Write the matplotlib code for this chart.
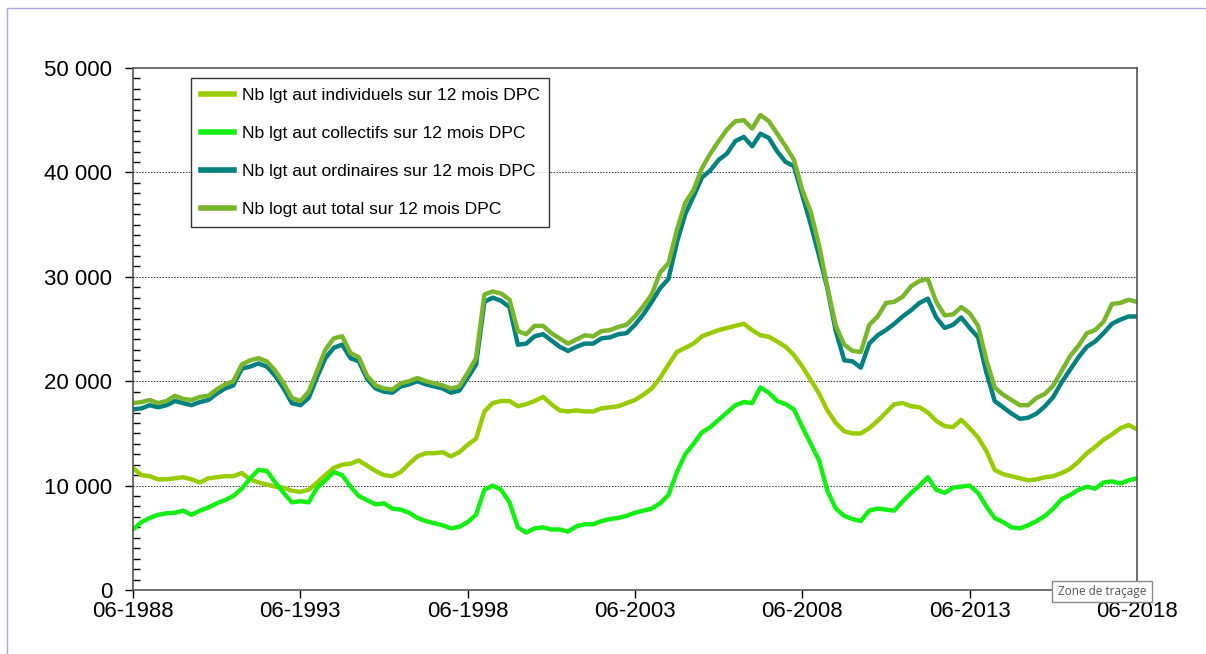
import matplotlib
matplotlib.use("Agg")
import matplotlib.pyplot as plt
import matplotlib.dates as mdates
from matplotlib.patches import Rectangle
from matplotlib.lines import Line2D
import pandas as pd

# quarterly readings (thousands), 06-1988 -> 06-2018
dates = pd.date_range("1988-06-01", "2018-06-01", freq="3MS")

individuels = [11.7, 11.0, 10.9, 10.6, 10.6, 10.7, 10.8, 10.6, 10.3, 10.7, 10.8, 10.9, 10.9, 11.2, 10.6, 10.3, 10.1,
               9.9, 9.8, 9.5, 9.4, 9.6, 10.3, 11.0, 11.7, 12.0, 12.1, 12.4, 11.9, 11.4, 11.0, 10.9, 11.3, 12.1,
               12.8, 13.1, 13.1, 13.2, 12.8, 13.2, 13.9, 14.5, 17.1, 17.9, 18.1, 18.1, 17.6, 17.8, 18.1, 18.5,
               17.8, 17.2, 17.1, 17.2, 17.1, 17.1, 17.4, 17.5, 17.6, 17.9, 18.2, 18.7, 19.3,
               20.3, 21.6, 22.8, 23.2, 23.6, 24.3, 24.6, 24.9, 25.1, 25.3, 25.5, 24.9, 24.4, 24.25, 23.8, 23.3,
               22.5, 21.4, 20.1, 18.8, 17.2, 16.0, 15.2, 15.0, 15.0, 15.5, 16.2, 17.0, 17.8, 17.9, 17.6,
               17.5, 17.0, 16.2, 15.7, 15.6, 16.3, 15.5, 14.6, 13.3, 11.5, 11.1, 10.9, 10.7, 10.5, 10.6, 10.8,
               10.9, 11.2, 11.6, 12.3, 13.1, 13.7, 14.4, 14.9, 15.5, 15.8, 15.4]

collectifs = [5.8, 6.5, 6.9, 7.2, 7.35, 7.4, 7.6, 7.2, 7.6, 7.9, 8.3, 8.6, 9.0, 9.7, 10.7, 11.5, 11.4, 10.3, 9.3,
              8.4, 8.5, 8.4, 9.8, 10.5, 11.3, 11.0, 9.9, 9.0, 8.6, 8.2, 8.3, 7.8, 7.7, 7.4,
              6.9, 6.6, 6.4, 6.2, 5.9, 6.05, 6.5, 7.2, 9.6, 10.0, 9.6, 8.4, 6.0, 5.5, 5.9, 6.0, 5.8, 5.8, 5.6,
              6.1, 6.3, 6.3, 6.6, 6.8, 6.9, 7.1, 7.4, 7.6, 7.8,
              8.3, 9.1, 11.3, 13.0, 14.0, 15.1, 15.6, 16.3, 17.0, 17.7, 18.0, 17.9, 19.4, 18.9, 18.1, 17.8,
              17.3, 15.6, 14.0, 12.4, 9.5, 7.8, 7.1, 6.8, 6.6, 7.6, 7.8, 7.7, 7.6, 8.5, 9.3,
              10.0, 10.8, 9.6, 9.3, 9.8, 9.9, 10.0, 9.3, 8.0, 6.9, 6.5, 6.0, 5.9, 6.2, 6.6, 7.1, 7.8, 8.7,
              9.1, 9.6, 9.9, 9.7, 10.3, 10.4, 10.2, 10.5, 10.7]

ordinaires = [17.3, 17.4, 17.7, 17.5, 17.7, 18.1, 17.9, 17.7, 18.0, 18.2, 18.8, 19.3, 19.6, 21.2, 21.4, 21.7,
              21.4, 20.5, 19.3, 17.9, 17.7, 18.4, 20.4, 22.2, 23.2, 23.5, 22.2, 21.9, 20.2, 19.3, 19.0, 18.9,
              19.5, 19.7,
              20.0, 19.7, 19.5, 19.3, 18.9, 19.1, 20.3, 21.6, 27.6, 28.0, 27.7, 27.1, 23.5, 23.6, 24.3, 24.5,
              23.9, 23.3, 22.9, 23.3, 23.6, 23.6, 24.1, 24.2, 24.5, 24.6, 25.4, 26.4, 27.6,
              28.9, 29.8, 33.3, 36.0, 37.7, 39.5, 40.2, 41.2, 41.8, 43.0, 43.4, 42.5, 43.7, 43.3, 42.0, 41.0,
              40.6, 37.8, 35.0, 32.0, 28.9, 24.8, 22.0, 21.9, 21.3, 23.6, 24.4, 24.9, 25.5, 26.2, 26.8,
              27.5, 27.9, 26.1, 25.1, 25.4, 26.1, 25.1, 24.2, 20.8, 18.1, 17.5, 16.9, 16.4, 16.5, 16.9, 17.6,
              18.5, 19.9, 21.1, 22.3, 23.3, 23.8, 24.6, 25.5, 25.9, 26.2, 26.2]

total = [17.9, 18.0, 18.2, 17.9, 18.1, 18.6, 18.3, 18.2, 18.5, 18.6, 19.2, 19.7, 20.0, 21.6, 22.0, 22.2, 21.9,
         21.0, 19.8, 18.4, 18.1, 19.0, 21.0, 23.0, 24.1, 24.3, 22.7, 22.3, 20.5, 19.6, 19.3, 19.2, 19.8, 20.0,
         20.3, 20.0, 19.8, 19.6, 19.3, 19.5, 20.8, 22.2, 28.3, 28.6, 28.4, 27.8, 24.8, 24.5, 25.3, 25.3,
         24.6, 24.1, 23.6, 24.0, 24.4, 24.3, 24.8, 24.9, 25.2, 25.4, 26.2, 27.2, 28.3,
         30.4, 31.3, 34.5, 37.1, 38.3, 40.4, 41.8, 43.0, 44.1, 44.9, 45.0, 44.2, 45.5, 44.9, 43.7, 42.5,
         41.2, 38.3, 36.2, 33.0, 29.0, 25.3, 23.5, 22.9, 22.8, 25.4, 26.2, 27.5, 27.6, 28.1, 29.1,
         29.6, 29.8, 27.6, 26.3, 26.4, 27.1, 26.5, 25.3, 22.0, 19.4, 18.7, 18.2, 17.7, 17.7, 18.4, 18.8,
         19.6, 21.0, 22.4, 23.4, 24.6, 24.9, 25.7, 27.4, 27.5, 27.8, 27.6]

labels = ["Nb lgt aut individuels sur 12 mois DPC",
          "Nb lgt aut collectifs sur 12 mois DPC",
          "Nb lgt aut ordinaires sur 12 mois DPC",
          "Nb logt aut total sur 12 mois DPC"]
colors = ["#99CC00", "#14EE14", "#00807F", "#7AB62C"]

xtick_dates = pd.date_range("1988-06-01", "2018-06-01", freq="60MS")
yticks = [0, 10000, 20000, 30000, 40000, 50000]
ytick_labels = ["0", "10 000", "20 000", "30 000", "40 000", "50 000"]

plt.rcParams["font.family"] = ["Liberation Sans", "DejaVu Sans"]

fig = plt.figure(figsize=(12.06, 6.54), dpi=100)
ax = fig.add_axes([133 / 1206, 1 - 590 / 654, 1004 / 1206, 522 / 654])

for series, lab, col in zip([individuels, collectifs, ordinaires, total], labels, colors):
    ax.plot(dates, [v * 1000 for v in series], color=col, lw=3.2, label=lab, solid_joinstyle="round")

ax.set_xlim(dates[0], dates[-1])
ax.set_ylim(0, 50000)
ax.set_yticks(yticks)
ax.set_yticklabels(ytick_labels)
ax.set_yticks(range(0, 50001, 1000), minor=True)
ax.set_xticks(xtick_dates)
ax.xaxis.set_major_formatter(mdates.DateFormatter("%m-%Y"))

for v in yticks[1:-1]:
    ax.axhline(v, color="#333333", lw=0.7, ls=(0, (1.5, 1.5)), zorder=1)

ax.tick_params(axis="y", which="major", direction="out", length=6, width=1, labelsize=16, pad=9)
ax.tick_params(axis="y", which="minor", direction="in", length=5, width=1)
ax.tick_params(axis="x", which="major", direction="out", length=6, width=1, labelsize=16, pad=2)
for s in ax.spines.values():
    s.set_color("#555555")
    s.set_linewidth(1.2)

leg = ax.legend(loc="upper left", bbox_to_anchor=(58 / 1004, 512 / 522), borderaxespad=0,
                fontsize=12.6, frameon=True, fancybox=False, edgecolor="black",
                handlelength=1.9, handletextpad=0.45, borderpad=0.55, labelspacing=1.3)
leg.get_frame().set_linewidth(1.0)
for h in leg.get_lines():
    h.set_linewidth(4)

# tooltip overlay and outer frame
fig.patches.append(Rectangle((1052 / 1206, 1 - 602 / 654), 100 / 1206, 21 / 654, transform=fig.transFigure,
                             facecolor="white", edgecolor="#8a8a8a", lw=1, zorder=10))
fig.text(1102 / 1206, 1 - 591.5 / 654, "Zone de traçage", ha="center", va="center", fontsize=8.5,
         family="Open Sans", color="#555555", zorder=11)
fig.lines.append(Line2D([7 / 1206, 7 / 1206, 1.0], [0, 1 - 8 / 654, 1 - 8 / 654], transform=fig.transFigure,
                        color="#A9A9E2", lw=1))

fig.savefig("out.png", dpi=100)
